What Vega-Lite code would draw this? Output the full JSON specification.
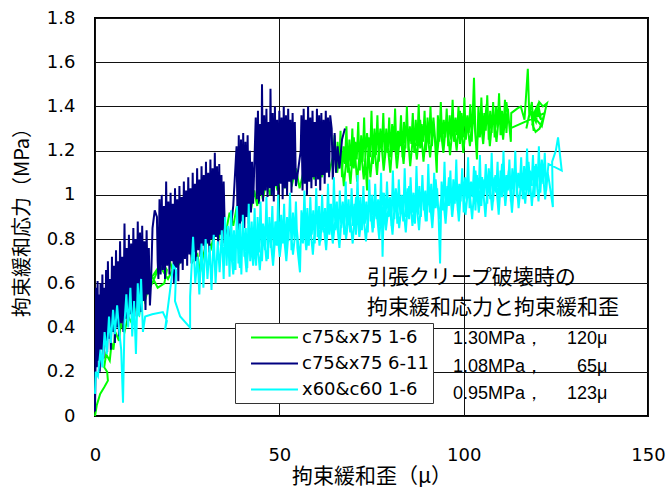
{
"$schema":"https://vega.github.io/schema/vega-lite/v6.json",
"width":553,"height":398,
"autosize":"none",
"padding":{"left":95,"top":18,"right":22,"bottom":72},
"background":"white",
"config":{"view":{"stroke":"black","strokeWidth":2},"font":"DejaVu Sans"},
"datasets":{
"g":[{"x":0,"y":0},{"x":0.5,"y":0.05},{"x":1.4,"y":0.1},{"x":2.5,"y":0.13},{"x":3.5,"y":0.16},{"x":3.3,"y":0.2},{"x":2.5,"y":0.22},{"x":3.0,"y":0.28},{"x":4.0,"y":0.25},{"x":4.5,"y":0.33},{"x":5.0,"y":0.3},{"x":5.5,"y":0.38},{"x":6.5,"y":0.34},{"x":7,"y":0.42},{"x":8,"y":0.38},{"x":9,"y":0.45},{"x":10,"y":0.42},{"x":11,"y":0.5},{"x":12,"y":0.46},{"x":13,"y":0.55},{"x":13.5,"y":0.52},
{"x":14.2,"y":0.56},{"x":15.5,"y":0.6},{"x":16.8,"y":0.65},{"x":18.0,"y":0.7},{"x":19.5,"y":0.66},{"x":18.8,"y":0.6},{"x":17.0,"y":0.58},{"x":15.5,"y":0.63},{"x":17.5,"y":0.68},{"x":19.8,"y":0.62},{"x":21,"y":0.66},{"x":20,"y":0.72},{"x":22,"y":0.7},{"x":23,"y":0.75},{"x":22.5,"y":0.68},{"x":24,"y":0.72},{"x":25.5,"y":0.78},{"x":26.5,"y":0.7},{"x":27.8,"y":0.73},{"x":28.5,"y":0.65},{"x":29.3,"y":0.72},{"x":30.5,"y":0.8},{"x":31.5,"y":0.76},{"x":32.5,"y":0.84},{"x":33.5,"y":0.8},{"x":34.5,"y":0.87},{"x":35.5,"y":0.83},{"x":36.5,"y":0.92},{"x":37.5,"y":0.86},{"x":38.5,"y":0.95},{"x":39,"y":0.88},{"x":40,"y":0.97},{"x":40.8,"y":0.9},{"x":41.5,"y":1.0},{"x":42.3,"y":0.93},{"x":43.2,"y":1.02},{"x":44,"y":0.95},{"x":44.8,"y":1.05},{"x":45.5,"y":0.98},{"x":46.5,"y":1.06},{"x":47.5,"y":1.0},{"x":48.5,"y":1.08},{"x":49.5,"y":1.02},{"x":50.5,"y":1.1},{"x":51.5,"y":1.03},{"x":52.5,"y":1.1},{"x":53.5,"y":1.05},{"x":54.5,"y":1.12},{"x":55.5,"y":1.03},{"x":56.5,"y":1.1},{"x":57.5,"y":1.06},{"x":58.5,"y":1.13},{"x":59.5,"y":1.07},{"x":60.5,"y":1.15},{"x":61.5,"y":1.08},{"x":62.5,"y":1.16},{"x":63.5,"y":1.1},{"x":64.5,"y":1.17},
{"x":65.0,"y":1.27},{"x":65.4,"y":1.1},{"x":65.8,"y":1.24},{"x":66.2,"y":1.12},{"x":66.6,"y":1.29},{"x":67.0,"y":1.08},{"x":67.4,"y":1.22},{"x":67.8,"y":1.14},{"x":68.2,"y":1.31},{"x":68.6,"y":1.1},{"x":69.0,"y":1.25},{"x":69.4,"y":1.13},{"x":69.8,"y":1.3},{"x":70.2,"y":1.12},{"x":70.6,"y":1.24},{"x":71.0,"y":1.16},{"x":71.4,"y":1.33},{"x":71.8,"y":1.11},{"x":72.2,"y":1.27},{"x":72.6,"y":1.15},{"x":73.0,"y":1.35},{"x":73.4,"y":1.13},{"x":73.8,"y":1.02},{"x":74.2,"y":1.26},{"x":74.6,"y":1.17},{"x":75.0,"y":1.38},{"x":75.4,"y":1.14},{"x":75.8,"y":1.3},{"x":76.2,"y":1.18},{"x":76.6,"y":1.36},{"x":77.0,"y":1.15},{"x":77.4,"y":1.28},{"x":77.8,"y":1.2},{"x":78.2,"y":1.37},{"x":78.6,"y":1.16},{"x":79.0,"y":1.3},{"x":79.4,"y":1.19},{"x":79.8,"y":1.35},{"x":80.2,"y":1.17},{"x":80.6,"y":1.32},{"x":81.0,"y":1.2},{"x":81.4,"y":1.39},{"x":81.8,"y":1.18},{"x":82.2,"y":1.29},{"x":82.6,"y":1.22},{"x":83.0,"y":1.36},{"x":83.4,"y":1.17},{"x":83.8,"y":1.33},{"x":84.2,"y":1.21},{"x":84.6,"y":1.4},{"x":85.0,"y":1.2},{"x":85.4,"y":1.31},{"x":85.8,"y":1.23},{"x":86.2,"y":1.37},{"x":86.6,"y":1.19},{"x":87.0,"y":1.34},{"x":87.4,"y":1.22},{"x":87.8,"y":1.41},{"x":88.2,"y":1.21},{"x":88.6,"y":1.32},{"x":89.0,"y":1.24},{"x":89.4,"y":1.38},{"x":89.8,"y":1.2},{"x":90.2,"y":1.35},{"x":90.6,"y":1.23},{"x":91.0,"y":1.4},{"x":91.4,"y":1.22},{"x":91.8,"y":1.33},{"x":92.2,"y":1.25},{"x":92.7,"y":1.1},{"x":93.0,"y":1.36},{"x":93.4,"y":1.24},{"x":93.8,"y":1.42},{"x":94.2,"y":1.23},{"x":94.6,"y":1.34},{"x":95.0,"y":1.26},{"x":95.4,"y":1.39},{"x":95.8,"y":1.22},{"x":96.2,"y":1.36},{"x":96.6,"y":1.25},{"x":97.0,"y":1.43},{"x":97.4,"y":1.24},{"x":97.8,"y":1.35},{"x":98.2,"y":1.27},{"x":98.6,"y":1.4},{"x":99.0,"y":1.23},{"x":99.4,"y":1.37},{"x":99.8,"y":1.26},{"x":100.2,"y":1.44},{"x":100.6,"y":1.25},{"x":101.0,"y":1.36},{"x":101.4,"y":1.28},{"x":101.8,"y":1.41},{"x":102.2,"y":1.24},{"x":102.8,"y":1.53},{"x":103.2,"y":1.27},{"x":103.6,"y":1.16},{"x":104.0,"y":1.4},{"x":104.4,"y":1.26},{"x":104.8,"y":1.44},{"x":105.2,"y":1.27},{"x":105.6,"y":1.37},{"x":106.0,"y":1.29},{"x":106.4,"y":1.45},{"x":106.8,"y":1.25},{"x":107.2,"y":1.38},{"x":107.6,"y":1.28},{"x":108.0,"y":1.42},{"x":108.4,"y":1.26},{"x":108.8,"y":1.4},{"x":109.2,"y":1.3},{"x":109.6,"y":1.46},{"x":110.0,"y":1.27},{"x":110.4,"y":1.38},{"x":110.8,"y":1.29},{"x":111.2,"y":1.43},{"x":111.6,"y":1.28},{"x":112.0,"y":1.39},{"x":112.4,"y":1.31},{"x":112.8,"y":1.24},{"x":112.9,"y":1.37},{"x":114.5,"y":1.39},{"x":115.5,"y":1.4},{"x":116.5,"y":1.34},{"x":117.4,"y":1.57},{"x":117.8,"y":1.36},{"x":117.0,"y":1.3},{"x":118.5,"y":1.42},{"x":119.0,"y":1.29},{"x":118.2,"y":1.38},{"x":119.6,"y":1.33},{"x":120.5,"y":1.42},{"x":121.5,"y":1.4},{"x":122.6,"y":1.415},{"x":121.8,"y":1.36},{"x":120.6,"y":1.3},{"x":119.5,"y":1.285},{"x":118.6,"y":1.32},{"x":119.8,"y":1.38},{"x":121.0,"y":1.34},{"x":120.2,"y":1.41},{"x":118.8,"y":1.36},{"x":121.2,"y":1.31},{"x":122.0,"y":1.37},
{"x":112.5,"y":1.3},{"x":111.6,"y":1.42},{"x":110.7,"y":1.25},{"x":109.8,"y":1.4},{"x":108.9,"y":1.24},{"x":108.0,"y":1.38},{"x":107.1,"y":1.22},{"x":106.2,"y":1.41},{"x":105.3,"y":1.23},{"x":104.4,"y":1.37},{"x":103.5,"y":1.2},{"x":102.6,"y":1.39},{"x":101.7,"y":1.22},{"x":100.8,"y":1.35},{"x":99.9,"y":1.19},{"x":99.0,"y":1.38},{"x":98.1,"y":1.2},{"x":97.2,"y":1.34},{"x":96.3,"y":1.18},{"x":95.4,"y":1.36},{"x":94.5,"y":1.19},{"x":93.6,"y":1.32},{"x":92.7,"y":1.16},{"x":91.8,"y":1.35},{"x":90.9,"y":1.17},{"x":90.0,"y":1.31},{"x":89.1,"y":1.15},{"x":88.2,"y":1.34},{"x":87.3,"y":1.16},{"x":86.4,"y":1.29},{"x":85.5,"y":1.13},{"x":84.6,"y":1.33},{"x":83.7,"y":1.14},{"x":82.8,"y":1.28},{"x":81.9,"y":1.12},{"x":81.0,"y":1.31},{"x":80.1,"y":1.1},{"x":79.2,"y":1.26},{"x":78.3,"y":1.11},{"x":77.4,"y":1.3},{"x":76.5,"y":1.09},{"x":75.6,"y":1.25},{"x":74.7,"y":1.08},{"x":73.8,"y":1.28},{"x":72.9,"y":1.07},{"x":72.0,"y":1.23},{"x":71.1,"y":1.06},{"x":70.2,"y":1.26},{"x":69.3,"y":1.05},{"x":68.4,"y":1.2},{"x":67.5,"y":1.04},{"x":66.6,"y":1.22},{"x":65.7,"y":1.1}],
"n":[{"x":0,"y":0.02},{"x":0.2,"y":0.3},{"x":0.3,"y":0.58},{"x":0.5,"y":0.22},{"x":0.7,"y":0.61},{"x":0.9,"y":0.25},{"x":1.1,"y":0.55},{"x":1.3,"y":0.2},{"x":1.5,"y":0.6},{"x":1.8,"y":0.3},{"x":2.0,"y":0.64},{"x":2.3,"y":0.26},{"x":2.5,"y":0.58},{"x":2.8,"y":0.33},{"x":3.0,"y":0.66},{"x":3.3,"y":0.29},{"x":3.5,"y":0.7},{"x":3.8,"y":0.35},{"x":4.0,"y":0.62},{"x":4.3,"y":0.3},{"x":4.6,"y":0.72},{"x":4.9,"y":0.38},{"x":5.1,"y":0.68},{"x":5.4,"y":0.33},{"x":5.7,"y":0.75},{"x":6.0,"y":0.4},{"x":6.2,"y":0.7},{"x":6.5,"y":0.36},{"x":6.8,"y":0.79},{"x":7.1,"y":0.42},{"x":7.4,"y":0.72},{"x":7.7,"y":0.38},{"x":8.0,"y":0.87},{"x":8.3,"y":0.44},{"x":8.6,"y":0.76},{"x":8.9,"y":0.41},{"x":9.2,"y":0.82},{"x":9.5,"y":0.46},{"x":9.8,"y":0.78},{"x":10.1,"y":0.43},{"x":10.4,"y":0.85},{"x":10.7,"y":0.49},{"x":11.0,"y":0.8},{"x":11.3,"y":0.45},{"x":11.6,"y":0.88},{"x":11.9,"y":0.5},{"x":12.2,"y":0.83},{"x":12.5,"y":0.47},{"x":12.8,"y":0.86},{"x":13.1,"y":0.52},{"x":13.4,"y":0.79},{"x":13.7,"y":0.48},{"x":14.0,"y":0.84},{"x":14.3,"y":0.55},{"x":14.6,"y":0.76},{"x":14.9,"y":0.5},
{"x":15.2,"y":0.6},{"x":15.6,"y":0.85},{"x":16.2,"y":0.93},{"x":16.8,"y":0.9},{"x":17.0,"y":0.7},{"x":17.2,"y":0.62},
{"x":17.5,"y":0.98},{"x":17.8,"y":0.64},{"x":18.1,"y":1.0},{"x":18.4,"y":0.66},{"x":18.7,"y":0.95},{"x":19.0,"y":0.62},{"x":19.3,"y":1.06},{"x":19.6,"y":0.68},{"x":19.9,"y":0.97},{"x":20.2,"y":0.64},{"x":20.5,"y":1.01},{"x":20.8,"y":0.7},{"x":21.1,"y":0.96},{"x":21.4,"y":0.6},{"x":21.7,"y":1.03},{"x":22.0,"y":0.67},{"x":22.3,"y":0.98},{"x":22.6,"y":0.61},{"x":22.9,"y":1.04},{"x":23.2,"y":0.69},{"x":23.5,"y":0.99},{"x":23.8,"y":0.66},{"x":24.1,"y":1.06},{"x":24.4,"y":0.71},{"x":24.7,"y":1.02},{"x":25.0,"y":0.68},{"x":25.3,"y":1.08},{"x":25.6,"y":0.73},{"x":25.9,"y":1.03},{"x":26.2,"y":0.69},{"x":26.5,"y":1.1},{"x":26.8,"y":0.74},{"x":27.1,"y":1.05},{"x":27.4,"y":0.7},{"x":27.7,"y":1.12},{"x":28.0,"y":0.75},{"x":28.3,"y":1.07},{"x":28.6,"y":0.72},{"x":28.9,"y":1.13},{"x":29.2,"y":0.77},{"x":29.5,"y":1.09},{"x":29.8,"y":0.73},{"x":30.1,"y":1.15},{"x":30.4,"y":0.78},{"x":30.7,"y":1.1},{"x":31.0,"y":0.74},{"x":31.3,"y":1.16},{"x":31.6,"y":0.8},{"x":31.9,"y":1.12},{"x":32.2,"y":0.76},{"x":32.5,"y":1.19},{"x":32.8,"y":0.81},{"x":33.1,"y":1.13},{"x":33.4,"y":0.77},{"x":33.7,"y":1.14},{"x":34.0,"y":0.82},{"x":34.3,"y":1.09},{"x":34.6,"y":0.78},{"x":34.9,"y":1.06},{"x":35.2,"y":0.85},
{"x":36.5,"y":0.8},{"x":37.5,"y":0.95},{"x":38.4,"y":1.22},{"x":38.7,"y":0.84},{"x":39.0,"y":1.27},{"x":39.3,"y":0.82},{"x":39.6,"y":1.25},{"x":39.9,"y":0.88},{"x":40.2,"y":1.28},{"x":40.5,"y":0.85},{"x":40.8,"y":1.24},{"x":41.1,"y":0.9},{"x":41.4,"y":1.27},{"x":41.7,"y":0.87},{"x":42.0,"y":1.2},{"x":42.3,"y":0.92},{"x":42.6,"y":1.15},{"x":42.9,"y":0.96},
{"x":43.6,"y":1.35},{"x":43.9,"y":0.98},{"x":44.2,"y":1.38},{"x":44.5,"y":0.96},{"x":44.8,"y":1.32},{"x":45.1,"y":1.0},{"x":45.3,"y":1.5},{"x":45.6,"y":0.97},{"x":45.9,"y":1.36},{"x":46.2,"y":1.02},{"x":46.5,"y":1.39},{"x":46.8,"y":0.99},{"x":47.1,"y":1.33},{"x":47.4,"y":1.03},{"x":47.6,"y":1.48},{"x":47.9,"y":1.0},{"x":48.2,"y":1.37},{"x":48.5,"y":0.97},{"x":48.8,"y":1.4},{"x":49.1,"y":1.04},{"x":49.4,"y":1.34},{"x":49.7,"y":1.0},{"x":50.0,"y":1.38},{"x":50.3,"y":1.05},{"x":50.6,"y":1.35},{"x":50.9,"y":0.98},{"x":51.2,"y":1.4},{"x":51.5,"y":1.03},{"x":51.8,"y":1.36},{"x":52.1,"y":1.0},{"x":52.4,"y":1.39},{"x":52.7,"y":1.06},{"x":53.0,"y":1.34},{"x":53.3,"y":1.01},{"x":53.6,"y":1.37},{"x":53.9,"y":1.07},{"x":54.2,"y":1.33},{"x":54.5,"y":1.04},
{"x":55.0,"y":1.1},{"x":55.8,"y":1.2},
{"x":56.0,"y":1.36},{"x":56.3,"y":1.02},{"x":56.6,"y":1.39},{"x":56.9,"y":1.05},{"x":57.2,"y":1.34},{"x":57.5,"y":1.0},{"x":57.8,"y":1.4},{"x":58.1,"y":1.06},{"x":58.4,"y":1.35},{"x":58.7,"y":1.03},{"x":59.0,"y":1.38},{"x":59.3,"y":1.08},{"x":59.6,"y":1.33},{"x":59.9,"y":1.04},{"x":60.2,"y":1.39},{"x":60.5,"y":1.07},{"x":60.8,"y":1.36},{"x":61.1,"y":1.02},{"x":61.4,"y":1.37},{"x":61.7,"y":1.09},{"x":62.0,"y":1.34},{"x":62.3,"y":1.05},{"x":62.6,"y":1.38},{"x":62.9,"y":1.1},{"x":63.2,"y":1.35},{"x":63.5,"y":1.08},{"x":63.8,"y":1.36},
{"x":64.2,"y":1.3},{"x":64.5,"y":1.07},{"x":65.0,"y":1.28},{"x":65.4,"y":1.1},{"x":65.8,"y":1.22},{"x":66.3,"y":1.12},{"x":67.0,"y":1.25},{"x":67.8,"y":1.3}],
"c":[{"x":0,"y":0.1},{"x":0.2,"y":0.2},{"x":0.8,"y":0.18},{"x":1.5,"y":0.3},{"x":2.0,"y":0.22},{"x":2.6,"y":0.38},{"x":3.2,"y":0.28},{"x":3.8,"y":0.45},{"x":4.3,"y":0.33},{"x":4.9,"y":0.48},{"x":5.4,"y":0.37},{"x":6.0,"y":0.5},{"x":6.6,"y":0.38},{"x":7.1,"y":0.3},{"x":7.6,"y":0.06},{"x":8.0,"y":0.42},{"x":8.5,"y":0.55},{"x":9.0,"y":0.4},{"x":9.6,"y":0.58},{"x":10.1,"y":0.36},{"x":10.6,"y":0.52},{"x":11.1,"y":0.28},{"x":11.6,"y":0.6},{"x":12.0,"y":0.45},{"x":12.5,"y":0.62},{"x":13.0,"y":0.38},{"x":13.6,"y":0.45},{"x":15.5,"y":0.46},{"x":18.4,"y":0.47},{"x":19.5,"y":0.43},{"x":19.0,"y":0.39},{"x":20.3,"y":0.56},{"x":21.2,"y":0.68},{"x":22.0,"y":0.66},{"x":21.7,"y":0.52},{"x":23.1,"y":0.45},{"x":25.8,"y":0.4},{"x":25.8,"y":0.54},{"x":26.6,"y":0.81},{"x":27.2,"y":0.6},{"x":27.8,"y":0.72},{"x":28.3,"y":0.55},{"x":28.9,"y":0.78},{"x":29.4,"y":0.58},{"x":30.0,"y":0.8},{"x":30.5,"y":0.62},{"x":31.1,"y":0.77},{"x":31.6,"y":0.57},{"x":32.2,"y":0.82},{"x":32.7,"y":0.6},{"x":33.3,"y":0.79},{"x":33.8,"y":0.65},{"x":34.4,"y":0.84},{"x":34.9,"y":0.62},
{"x":35.3,"y":0.9},{"x":35.7,"y":0.68},{"x":36.1,"y":0.86},{"x":36.5,"y":0.63},{"x":36.9,"y":0.93},{"x":37.3,"y":0.7},{"x":37.7,"y":0.84},{"x":38.1,"y":0.66},{"x":38.5,"y":0.95},{"x":38.9,"y":0.69},{"x":39.3,"y":0.87},{"x":39.7,"y":0.64},{"x":40.1,"y":0.91},{"x":40.5,"y":0.72},{"x":40.9,"y":0.85},{"x":41.3,"y":0.67},{"x":41.7,"y":0.96},{"x":42.1,"y":0.7},{"x":42.5,"y":0.88},{"x":42.9,"y":0.73},{"x":43.3,"y":0.94},{"x":43.7,"y":0.68},{"x":44.1,"y":0.9},{"x":44.5,"y":0.74},{"x":44.9,"y":0.97},{"x":45.3,"y":0.7},{"x":45.7,"y":0.86},{"x":46.1,"y":0.75},{"x":46.5,"y":0.99},{"x":46.9,"y":0.71},{"x":47.3,"y":0.9},{"x":47.7,"y":0.76},{"x":48.1,"y":0.95},{"x":48.5,"y":0.72},{"x":48.9,"y":0.88},{"x":49.3,"y":0.77},{"x":49.7,"y":1.0},{"x":50.1,"y":0.73},{"x":50.5,"y":0.91},{"x":50.9,"y":0.78},{"x":51.3,"y":0.96},{"x":51.7,"y":0.74},{"x":52.1,"y":0.9},{"x":52.5,"y":0.79},{"x":52.9,"y":1.01},{"x":53.3,"y":0.75},{"x":53.7,"y":0.92},{"x":54.1,"y":0.8},{"x":54.5,"y":0.97},{"x":54.9,"y":0.76},{"x":55.6,"y":0.65},{"x":56.0,"y":0.93},{"x":56.4,"y":0.78},{"x":56.8,"y":1.02},{"x":57.2,"y":0.8},{"x":57.6,"y":0.94},{"x":58.0,"y":0.77},{"x":58.4,"y":0.99},{"x":58.8,"y":0.82},{"x":59.2,"y":0.93},{"x":59.6,"y":0.78},{"x":60.0,"y":1.03},{"x":60.4,"y":0.81},{"x":60.8,"y":0.95},{"x":61.2,"y":0.79},{"x":61.6,"y":1.0},{"x":62.0,"y":0.83},{"x":62.4,"y":0.94},{"x":62.8,"y":0.8},{"x":63.2,"y":1.05},{"x":63.6,"y":0.82},{"x":64.0,"y":0.96},{"x":64.4,"y":0.79},{"x":64.8,"y":1.08},{"x":65.2,"y":0.84},{"x":65.6,"y":0.97},{"x":66.0,"y":0.81},{"x":66.4,"y":1.02},{"x":66.8,"y":0.85},{"x":67.2,"y":0.95},{"x":67.6,"y":0.82},{"x":68.0,"y":1.06},{"x":68.4,"y":0.84},{"x":68.8,"y":0.98},{"x":69.2,"y":0.83},{"x":69.6,"y":1.03},{"x":70.0,"y":0.86},{"x":70.4,"y":0.96},{"x":70.8,"y":0.82},{"x":71.2,"y":1.09},{"x":71.6,"y":0.85},{"x":72.0,"y":0.99},{"x":72.4,"y":0.84},{"x":72.8,"y":1.04},{"x":73.2,"y":0.87},{"x":73.6,"y":0.97},{"x":74.0,"y":0.83},{"x":74.4,"y":1.07},{"x":74.8,"y":0.88},{"x":75.2,"y":1.0},{"x":75.6,"y":0.85},{"x":76.0,"y":1.05},{"x":76.4,"y":0.89},{"x":76.8,"y":0.98},{"x":77.2,"y":0.86},{"x":77.6,"y":1.1},{"x":78.0,"y":0.72},{"x":78.4,"y":1.01},{"x":78.8,"y":0.88},{"x":79.2,"y":1.06},{"x":79.6,"y":0.9},{"x":80.0,"y":0.99},{"x":80.4,"y":0.86},{"x":80.8,"y":1.11},{"x":81.2,"y":0.89},{"x":81.6,"y":1.02},{"x":82.0,"y":0.87},{"x":82.4,"y":1.07},{"x":82.8,"y":0.91},{"x":83.2,"y":1.0},{"x":83.6,"y":0.88},{"x":84.0,"y":1.12},{"x":84.4,"y":0.9},{"x":84.8,"y":1.03},{"x":85.2,"y":0.89},{"x":85.6,"y":1.08},{"x":86.0,"y":0.92},{"x":86.4,"y":1.01},{"x":86.8,"y":0.87},{"x":87.2,"y":1.13},{"x":87.6,"y":0.91},{"x":88.0,"y":1.04},{"x":88.4,"y":0.9},{"x":88.8,"y":1.09},{"x":89.2,"y":0.93},{"x":89.6,"y":1.02},{"x":90.0,"y":0.88},{"x":90.4,"y":1.14},{"x":90.8,"y":0.92},{"x":91.2,"y":1.05},{"x":91.6,"y":0.91},{"x":92.0,"y":1.1},{"x":92.4,"y":0.94},{"x":92.8,"y":1.03},{"x":93.2,"y":0.9},{"x":93.6,"y":0.69},{"x":94.0,"y":1.06},{"x":94.4,"y":0.93},{"x":94.8,"y":1.15},{"x":95.2,"y":0.92},{"x":95.6,"y":1.04},{"x":96.0,"y":0.95},{"x":96.4,"y":1.11},{"x":96.8,"y":0.91},{"x":97.2,"y":1.07},{"x":97.6,"y":0.96},{"x":98.0,"y":1.16},{"x":98.4,"y":0.93},{"x":98.8,"y":1.05},{"x":99.2,"y":0.97},{"x":99.6,"y":1.12},{"x":100.0,"y":0.92},{"x":100.4,"y":1.08},{"x":100.8,"y":0.98},{"x":101.2,"y":1.17},{"x":101.6,"y":0.94},{"x":102.0,"y":1.06},{"x":102.4,"y":0.99},{"x":102.8,"y":1.13},{"x":103.2,"y":0.93},{"x":103.6,"y":1.09},{"x":104.0,"y":0.97},{"x":104.4,"y":1.18},{"x":104.8,"y":0.95},{"x":105.2,"y":1.07},{"x":105.6,"y":1.0},{"x":106.0,"y":1.14},{"x":106.4,"y":0.96},{"x":106.8,"y":1.1},{"x":107.2,"y":0.98},{"x":107.6,"y":1.19},{"x":108.0,"y":0.97},{"x":108.4,"y":1.08},{"x":108.8,"y":1.01},{"x":109.2,"y":1.15},{"x":109.6,"y":0.95},{"x":110.0,"y":1.11},{"x":110.4,"y":0.99},{"x":110.8,"y":1.2},{"x":111.2,"y":0.98},{"x":111.6,"y":1.09},{"x":112.0,"y":1.02},{"x":112.4,"y":1.16},{"x":112.8,"y":0.97},{"x":113.2,"y":1.12},{"x":113.6,"y":1.0},{"x":114.0,"y":1.2},{"x":114.4,"y":0.99},{"x":114.8,"y":1.1},{"x":115.2,"y":1.03},{"x":115.6,"y":1.17},{"x":116.0,"y":0.98},{"x":116.4,"y":1.13},{"x":116.8,"y":1.02},{"x":117.2,"y":1.21},{"x":117.6,"y":1.0},{"x":118.0,"y":1.11},{"x":118.4,"y":1.04},{"x":118.8,"y":1.18},{"x":119.2,"y":0.99},{"x":119.6,"y":1.14},{"x":120.0,"y":1.03},{"x":120.4,"y":1.22},{"x":120.8,"y":1.01},{"x":121.2,"y":1.12},{"x":121.6,"y":1.05},{"x":122.0,"y":1.19},{"x":122.4,"y":1.02},{"x":122.8,"y":1.1},{"x":123.2,"y":1.06},{"x":124.2,"y":0.945},{"x":124.0,"y":1.15},{"x":125.0,"y":1.2},{"x":125.6,"y":1.26},{"x":126.6,"y":1.11},
{"x":123.0,"y":1.14},{"x":122.1,"y":0.98},{"x":121.2,"y":1.16},{"x":120.3,"y":0.97},{"x":119.4,"y":1.13},{"x":118.5,"y":0.95},{"x":117.6,"y":1.15},{"x":116.7,"y":0.96},{"x":115.8,"y":1.1},{"x":114.9,"y":0.94},{"x":114.0,"y":1.13},{"x":113.1,"y":0.92},{"x":112.2,"y":1.11},{"x":111.3,"y":0.95},{"x":110.4,"y":1.14},{"x":109.5,"y":0.91},{"x":108.6,"y":1.09},{"x":107.7,"y":0.93},{"x":106.8,"y":1.12},{"x":105.9,"y":0.9},{"x":105.0,"y":1.08},{"x":104.1,"y":0.92},{"x":103.2,"y":1.11},{"x":102.3,"y":0.89},{"x":101.4,"y":1.06},{"x":100.5,"y":0.91},{"x":99.6,"y":1.1},{"x":98.7,"y":0.88},{"x":97.8,"y":1.05},{"x":96.9,"y":0.9},{"x":96.0,"y":1.08},{"x":95.1,"y":0.87},{"x":94.2,"y":1.03},{"x":93.3,"y":0.89},{"x":92.4,"y":1.07},{"x":91.5,"y":0.85},{"x":90.6,"y":1.02},{"x":89.7,"y":0.88},{"x":88.8,"y":1.05},{"x":87.9,"y":0.84},{"x":87.0,"y":1.0},{"x":86.1,"y":0.86},{"x":85.2,"y":1.04},{"x":84.3,"y":0.83},{"x":83.4,"y":0.99},{"x":82.5,"y":0.85},{"x":81.6,"y":1.03},{"x":80.7,"y":0.82},{"x":79.8,"y":0.97},{"x":78.9,"y":0.84},{"x":78.0,"y":1.01},{"x":77.1,"y":0.8},{"x":76.2,"y":0.96},{"x":75.3,"y":0.83},{"x":74.4,"y":1.0},{"x":73.5,"y":0.79},{"x":72.6,"y":0.94},{"x":71.7,"y":0.81},{"x":70.8,"y":0.99},{"x":69.9,"y":0.78},{"x":69.0,"y":0.93},{"x":68.1,"y":0.8},{"x":67.2,"y":0.97},{"x":66.3,"y":0.76},{"x":65.4,"y":0.92},{"x":64.5,"y":0.78},{"x":63.6,"y":0.96},{"x":62.7,"y":0.75},{"x":61.8,"y":0.9},{"x":60.9,"y":0.77},{"x":60.0,"y":0.94},{"x":59.1,"y":0.73},{"x":58.2,"y":0.89},{"x":57.3,"y":0.75},{"x":56.4,"y":0.92},{"x":55.5,"y":0.71},{"x":54.6,"y":0.87},{"x":53.7,"y":0.73},{"x":52.8,"y":0.9},{"x":51.9,"y":0.7},{"x":51.0,"y":0.86},{"x":50.1,"y":0.72},{"x":49.2,"y":0.88},{"x":48.3,"y":0.68},{"x":47.4,"y":0.84},{"x":46.5,"y":0.7},{"x":45.6,"y":0.87},{"x":44.7,"y":0.66},{"x":43.8,"y":0.83},{"x":42.9,"y":0.68},{"x":42.0,"y":0.85},{"x":41.1,"y":0.65},{"x":40.2,"y":0.81},{"x":39.3,"y":0.67},{"x":38.4,"y":0.84},{"x":37.5,"y":0.64},{"x":36.6,"y":0.8}]
},
"layer":[
{"data":{"name":"g"},"mark":{"type":"line","strokeWidth":2},
 "encoding":{
  "x":{"field":"x","type":"quantitative","scale":{"domain":[0,150],"nice":false},
   "axis":{"values":[0,50,100,150],"grid":true,"gridColor":"#111","gridWidth":1,"ticks":false,"domain":false,"labelFont":"DejaVu Sans","labelFontSize":18,"labelColor":"black","labelPadding":30,"labelFlush":false,"labelOverlap":false,"title":"拘束緩和歪（μ）","titleFont":"Noto Sans CJK JP","titleFontSize":21,"titleFontWeight":"normal","titleColor":"black","titlePadding":1}},
  "y":{"field":"y","type":"quantitative","scale":{"domain":[0,1.8],"nice":false},
   "axis":{"values":[0,0.2,0.4,0.6,0.8,1,1.2,1.4,1.6,1.8],"format":"~g","grid":true,"gridColor":"#111","gridWidth":1,"ticks":false,"domain":false,"labelFont":"DejaVu Sans","labelFontSize":18,"labelColor":"black","labelPadding":20,"labelFlush":false,"labelOverlap":false,"title":"拘束緩和応力（MPa）","titleFont":"Noto Sans CJK JP","titleFontSize":20,"titleFontWeight":"normal","titleColor":"black","titlePadding":14}},
  "color":{"datum":"c75&x75 1-6","type":"nominal","scale":{"domain":["c75&x75 1-6","c75&x75 6-11","x60&c60 1-6"],"range":["#00ff00","#000080","#00ffff"]},
   "legend":{"orient":"none","legendX":140,"legendY":305,"title":null,"symbolType":"M-2.5,0L2.5,0","symbolSize":353,"symbolStrokeWidth":2,"labelFont":"DejaVu Sans","labelFontSize":18,"labelColor":"black","labelOffset":17,"strokeColor":"#333","fillColor":"white","padding":4,"symbolOffset":25,"rowPadding":6,"labelLimit":200}},
  "order":{"value":null}}},
{"data":{"name":"n"},"mark":{"type":"line","strokeWidth":2},
 "encoding":{"x":{"field":"x","type":"quantitative"},"y":{"field":"y","type":"quantitative"},"color":{"datum":"c75&x75 6-11","type":"nominal"},"order":{"value":null}}},
{"data":{"name":"c"},"mark":{"type":"line","strokeWidth":2},
 "encoding":{"x":{"field":"x","type":"quantitative"},"y":{"field":"y","type":"quantitative"},"color":{"datum":"x60&c60 1-6","type":"nominal"},"order":{"value":null}}},
{"data":{"values":[{}]},"mark":{"type":"text","align":"left","baseline":"middle","fontSize":21,"font":"Noto Sans CJK JP","color":"black"},
 "encoding":{"x":{"datum":73.8,"type":"quantitative"},"y":{"datum":0.622,"type":"quantitative"},"text":{"value":"引張クリープ破壊時の"}}},
{"data":{"values":[{}]},"mark":{"type":"text","align":"left","baseline":"middle","fontSize":21,"font":"Noto Sans CJK JP","color":"black"},
 "encoding":{"x":{"datum":73.8,"type":"quantitative"},"y":{"datum":0.487,"type":"quantitative"},"text":{"value":"拘束緩和応力と拘束緩和歪"}}},
{"data":{"values":[{}]},"mark":{"type":"text","align":"left","baseline":"middle","fontSize":18,"font":"Liberation Sans","color":"black"},
 "encoding":{"x":{"datum":97.1,"type":"quantitative"},"y":{"datum":0.348,"type":"quantitative"},"text":{"value":"1.30MPa，"}}},
{"data":{"values":[{}]},"mark":{"type":"text","align":"right","baseline":"middle","fontSize":18,"font":"Liberation Sans","color":"black"},
 "encoding":{"x":{"datum":139,"type":"quantitative"},"y":{"datum":0.348,"type":"quantitative"},"text":{"value":"120μ"}}},
{"data":{"values":[{}]},"mark":{"type":"text","align":"left","baseline":"middle","fontSize":18,"font":"Liberation Sans","color":"black"},
 "encoding":{"x":{"datum":97.1,"type":"quantitative"},"y":{"datum":0.222,"type":"quantitative"},"text":{"value":"1.08MPa，"}}},
{"data":{"values":[{}]},"mark":{"type":"text","align":"right","baseline":"middle","fontSize":18,"font":"Liberation Sans","color":"black"},
 "encoding":{"x":{"datum":139,"type":"quantitative"},"y":{"datum":0.222,"type":"quantitative"},"text":{"value":"65μ"}}},
{"data":{"values":[{}]},"mark":{"type":"text","align":"left","baseline":"middle","fontSize":18,"font":"Liberation Sans","color":"black"},
 "encoding":{"x":{"datum":97.1,"type":"quantitative"},"y":{"datum":0.1,"type":"quantitative"},"text":{"value":"0.95MPa，"}}},
{"data":{"values":[{}]},"mark":{"type":"text","align":"right","baseline":"middle","fontSize":18,"font":"Liberation Sans","color":"black"},
 "encoding":{"x":{"datum":139,"type":"quantitative"},"y":{"datum":0.1,"type":"quantitative"},"text":{"value":"123μ"}}}
]
}
